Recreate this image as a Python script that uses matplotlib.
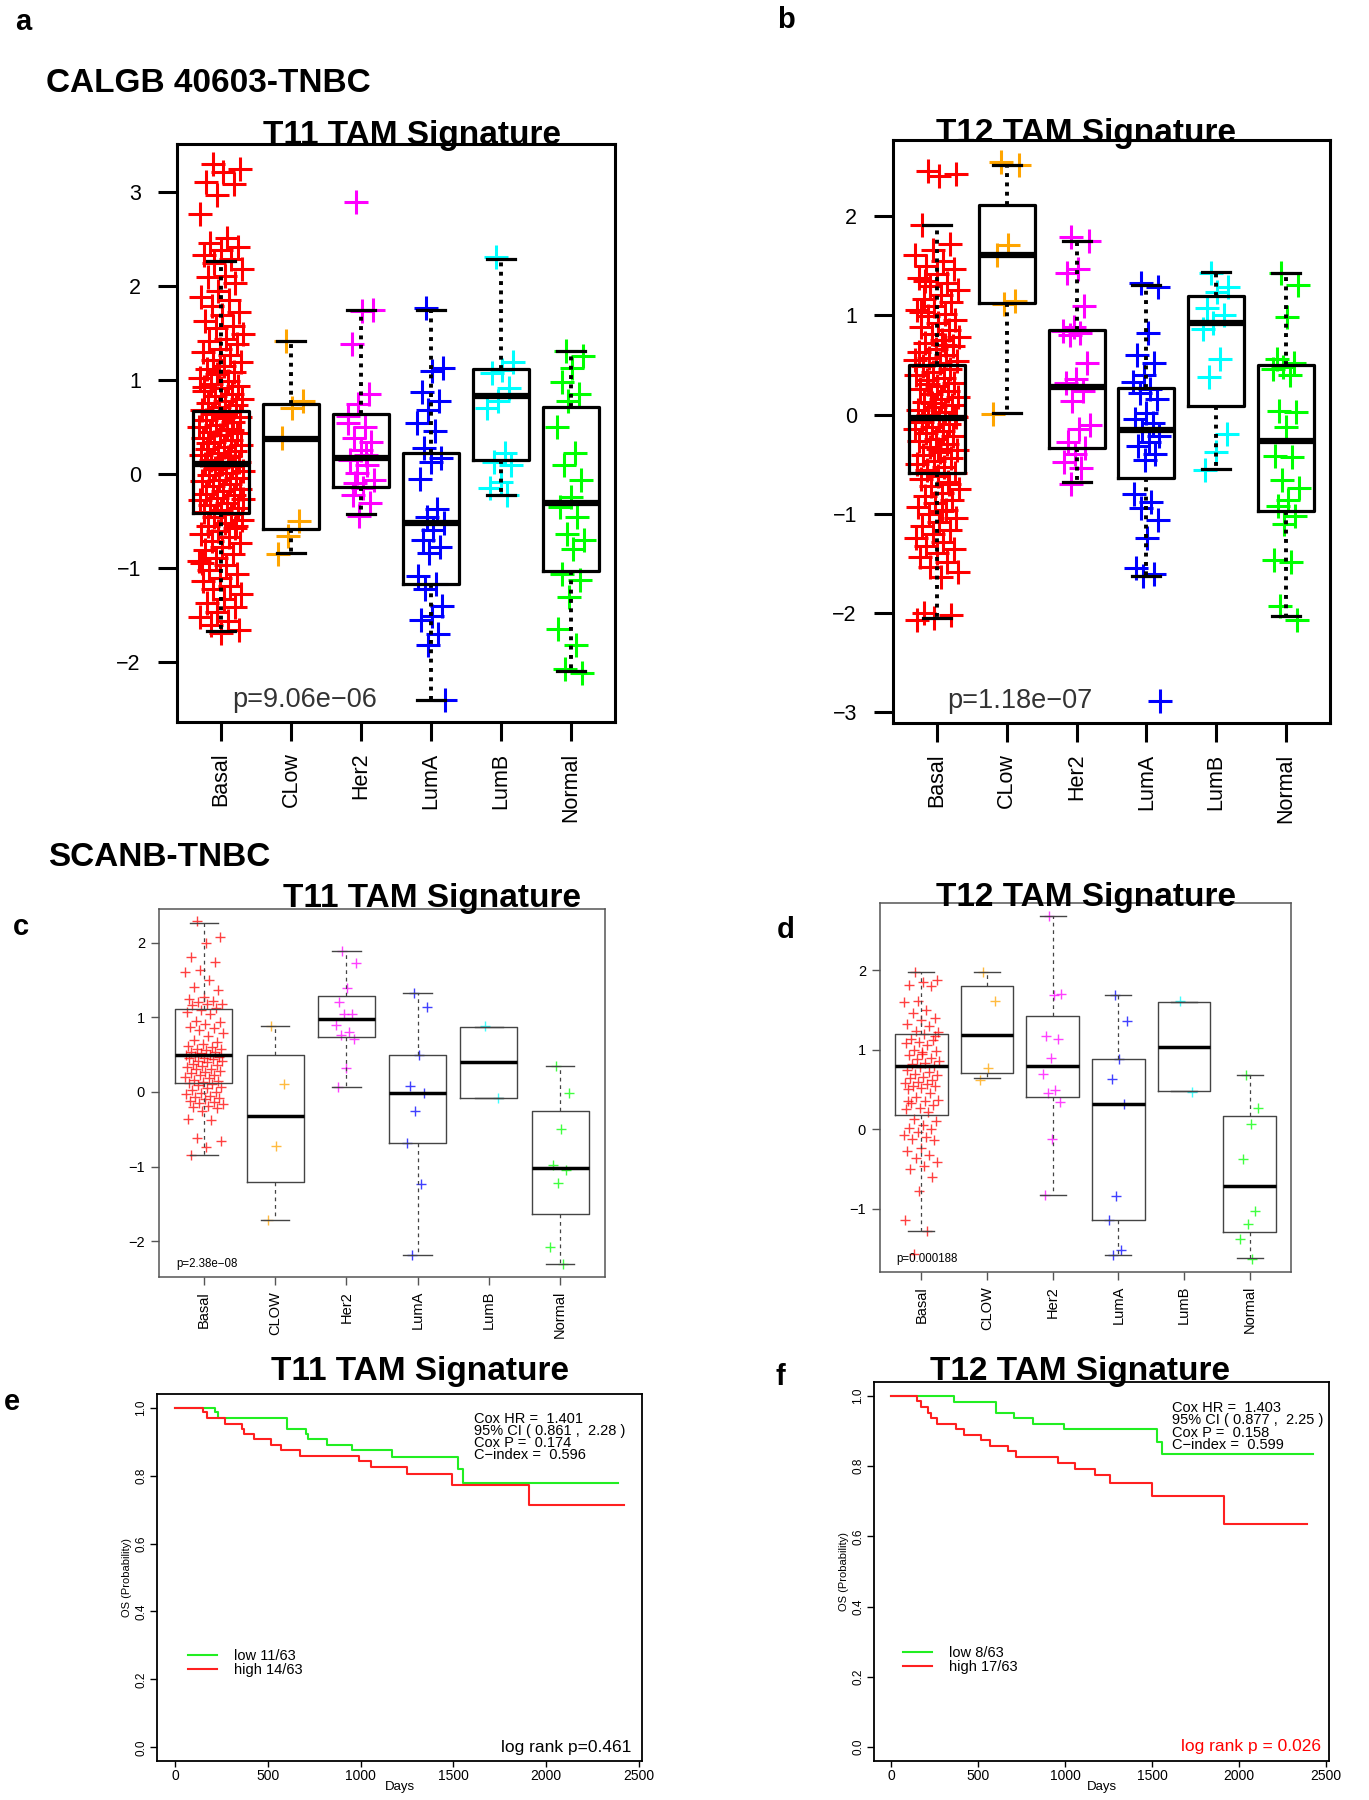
import numpy as np
import matplotlib.pyplot as plt

plt.rcParams['font.family'] = ['Liberation Sans', 'DejaVu Sans']

W, H = 1369, 1800

subtypes_calgb = ["Basal", "CLow", "Her2", "LumA", "LumB", "Normal"]
subtypes_scanb = ["Basal", "CLOW", "Her2", "LumA", "LumB", "Normal"]
colors = ["#FF0000", "#FFA500", "#FF00FF", "#0000FF", "#00FFFF", "#00FF00"]

# ---- panel a : CALGB T11 ----
a_basal = [3.30, 3.24, 3.21, 3.11, 3.08, 2.97, 2.76, 2.51, 2.46, 2.41, 2.38, 2.33, 2.29,
           2.24, 2.18, 2.11, 2.09, 2.03, 1.95, 1.88, 1.85, 1.79, 1.72, 1.69, 1.63, 1.57,
           1.55, 1.49, 1.44, 1.41, 1.38, 1.33, 1.30, 1.26, 1.21, 1.19, 1.15, 1.12, 1.08,
           1.06, 1.02, 0.99, 0.96, 0.93, 0.91, 0.88, 0.85, 0.83, 0.80, 0.78, 0.75, 0.73,
           0.71, 0.68, 0.66, 0.64, 0.61, 0.59, 0.57, 0.55, 0.52, 0.50, 0.48, 0.45, 0.43,
           0.41, 0.38, 0.36, 0.34, 0.31, 0.29, 0.27, 0.24, 0.22, 0.20, 0.18, 0.15, 0.13,
           0.11, 0.10, 0.08, 0.06, 0.03, 0.01, -0.01, -0.04, -0.06, -0.08, -0.11, -0.13,
           -0.16, -0.18, -0.21, -0.23, -0.26, -0.28, -0.31, -0.33, -0.36, -0.38, -0.41,
           -0.43, -0.46, -0.49, -0.52, -0.55, -0.58, -0.61, -0.64, -0.67, -0.71, -0.74,
           -0.78, -0.81, -0.85, -0.89, -0.93, -0.97, -1.02, -1.06, -1.11, -1.14, -1.19,
           -1.23, -1.28, -1.33, -1.37, -1.42, -1.47, -1.52, -1.57, -1.61, -1.66, -1.69,
           0.92, 0.47, 0.05, -0.27, 0.63, 0.33, -0.55, 1.10, -0.95, 0.19]
a_clow = [1.41, 0.78, 0.70, 0.38, -0.50, -0.66, -0.85]
a_her2 = [2.89, 1.74, 1.73, 1.38, 0.85, 0.74, 0.54, 0.50, 0.38, 0.34, 0.25, 0.15, 0.09,
          0.01, -0.07, -0.15, -0.23, -0.31, -0.45, 0.62, 0.20, -0.10]
a_luma = [1.76, 1.13, 1.09, 0.87, 0.78, 0.68, 0.54, 0.46, 0.28, 0.17, 0.13, -0.05, -0.37,
          -0.46, -0.52, -0.60, -0.70, -0.78, -0.84, -1.09, -1.17, -1.23, -1.41, -1.51,
          -1.55, -1.70, -1.82, -2.41]
a_lumb = [2.31, 1.19, 1.11, 1.07, 0.91, 0.78, 0.70, 0.22, 0.13, 0.09, -0.09, -0.15, -0.23]
a_normal = [1.31, 1.25, 1.13, 0.98, 0.85, 0.78, 0.50, 0.22, 0.09, -0.07, -0.25, -0.35,
            -0.46, -0.64, -0.70, -0.80, -1.07, -1.13, -1.31, -1.65, -1.82, -2.08, -2.12]
# (whislo, q1, median, q3, whishi)
a_box = [(-1.67, -0.42, 0.10, 0.67, 2.26), (-0.84, -0.59, 0.37, 0.74, 1.41),
         (-0.43, -0.14, 0.17, 0.64, 1.74), (-2.41, -1.17, -0.52, 0.22, 1.74),
         (-0.23, 0.15, 0.83, 1.12, 2.29), (-2.10, -1.03, -0.31, 0.71, 1.31)]

# ---- panel b : CALGB T12 ----
b_basal = [2.46, 2.43, 2.41, 1.91, 1.72, 1.66, 1.61, 1.55, 1.50, 1.47, 1.42, 1.38, 1.33,
           1.30, 1.26, 1.21, 1.17, 1.14, 1.10, 1.06, 1.02, 0.99, 0.95, 0.92, 0.88, 0.85,
           0.81, 0.78, 0.75, 0.72, 0.69, 0.66, 0.63, 0.60, 0.57, 0.54, 0.52, 0.49, 0.46,
           0.43, 0.40, 0.37, 0.35, 0.32, 0.29, 0.26, 0.24, 0.21, 0.18, 0.16, 0.13, 0.10,
           0.08, 0.05, 0.03, 0.00, -0.02, -0.04, -0.07, -0.09, -0.12, -0.14, -0.17, -0.19,
           -0.22, -0.25, -0.27, -0.30, -0.33, -0.36, -0.38, -0.41, -0.44, -0.47, -0.50,
           -0.53, -0.56, -0.59, -0.62, -0.65, -0.68, -0.72, -0.75, -0.79, -0.82, -0.86,
           -0.89, -0.93, -0.96, -1.00, -1.04, -1.08, -1.12, -1.16, -1.20, -1.24, -1.28,
           -1.32, -1.36, -1.40, -1.44, -1.49, -1.54, -1.59, -1.64, -2.00, -2.02, -2.05,
           -2.07, 0.70, 0.31, -0.01, -0.35, 1.04, -0.70, 0.12, 0.55, -0.97, 1.35]
b_clow = [2.55, 2.52, 1.71, 1.61, 1.15, 1.12, 0.01]
b_her2 = [1.79, 1.75, 1.47, 1.43, 1.10, 0.88, 0.84, 0.82, 0.80, 0.52, 0.36, 0.32, 0.24,
          0.14, -0.10, -0.14, -0.28, -0.34, -0.40, -0.48, -0.54, -0.70]
b_luma = [1.33, 1.29, 0.82, 0.60, 0.52, 0.40, 0.33, 0.26, 0.22, 0.16, 0.02, -0.04, -0.08,
          -0.16, -0.22, -0.28, -0.32, -0.40, -0.46, -0.80, -0.88, -0.94, -1.06, -1.24,
          -1.55, -1.61, -1.63, -2.89]
b_lumb = [1.43, 1.29, 1.24, 1.08, 1.00, 0.92, 0.86, 0.56, 0.38, -0.20, -0.38, -0.56]
b_normal = [1.43, 1.31, 0.98, 0.56, 0.52, 0.48, 0.46, 0.40, 0.04, 0.03, -0.12, -0.42,
            -0.43, -0.66, -0.74, -0.86, -0.92, -1.02, -1.10, -1.47, -1.49, -1.93, -2.07]
b_box = [(-2.05, -0.59, -0.03, 0.50, 1.91), (0.02, 1.13, 1.61, 2.11, 2.52),
         (-0.68, -0.34, 0.28, 0.85, 1.75), (-1.63, -0.64, -0.15, 0.27, 1.31),
         (-0.55, 0.09, 0.92, 1.20, 1.44), (-2.03, -0.97, -0.27, 0.50, 1.43)]

# ---- panel c : SCANB T11 ----
c_basal = [2.29, 2.07, 2.00, 1.81, 1.74, 1.63, 1.61, 1.50, 1.40, 1.36, 1.27, 1.25, 1.22,
           1.20, 1.18, 1.18, 1.16, 1.12, 1.10, 1.07, 1.05, 0.95, 0.93, 0.91, 0.87, 0.86,
           0.83, 0.79, 0.75, 0.70, 0.67, 0.64, 0.62, 0.60, 0.58, 0.57, 0.56, 0.54, 0.53,
           0.52, 0.50, 0.49, 0.48, 0.47, 0.46, 0.45, 0.44, 0.42, 0.41, 0.40, 0.38, 0.36,
           0.35, 0.33, 0.31, 0.30, 0.28, 0.27, 0.25, 0.23, 0.22, 0.20, 0.18, 0.16, 0.15,
           0.13, 0.12, 0.11, 0.09, 0.07, 0.05, 0.02, 0.00, -0.02, -0.03, -0.05, -0.07,
           -0.08, -0.10, -0.12, -0.13, -0.15, -0.16, -0.19, -0.20, -0.22, -0.25, -0.36,
           -0.38, -0.62, -0.66, -0.74, -0.85]
c_clow = [0.88, 0.10, -0.72, -1.72]
c_her2 = [1.89, 1.72, 1.39, 1.20, 1.05, 1.04, 0.89, 0.80, 0.76, 0.71, 0.32, 0.07]
c_luma = [1.32, 1.14, 0.49, 0.08, -0.02, -0.25, -0.69, -1.23, -2.19]
c_lumb = [0.88, -0.08]
c_normal = [0.35, -0.02, -0.50, -0.98, -1.05, -1.22, -2.08, -2.30]
c_box = [(-0.84, 0.12, 0.49, 1.11, 2.26), (-1.71, -1.21, -0.32, 0.49, 0.88),
         (0.07, 0.74, 0.97, 1.29, 1.89), (-2.19, -0.69, -0.02, 0.49, 1.32),
         (-0.08, -0.08, 0.40, 0.87, 0.87), (-2.30, -1.64, -1.02, -0.26, 0.35)]

# ---- panel d : SCANB T12 ----
d_basal = [1.98, 1.88, 1.85, 1.82, 1.80, 1.62, 1.60, 1.50, 1.46, 1.40, 1.37, 1.33, 1.30,
           1.24, 1.22, 1.20, 1.14, 1.12, 1.10, 1.08, 1.06, 1.00, 0.98, 0.97, 0.93, 0.90,
           0.88, 0.86, 0.84, 0.82, 0.80, 0.78, 0.74, 0.72, 0.70, 0.68, 0.66, 0.64, 0.62,
           0.60, 0.58, 0.57, 0.55, 0.54, 0.52, 0.50, 0.45, 0.40, 0.37, 0.36, 0.33, 0.30,
           0.27, 0.25, 0.22, 0.13, 0.10, 0.05, 0.02, 0.00, -0.03, -0.07, -0.10, -0.12,
           -0.14, -0.24, -0.27, -0.32, -0.36, -0.42, -0.47, -0.50, -0.60, -0.78, -1.15,
           -1.28, -1.57, 1.17, 0.95, 0.35]
d_clow = [1.98, 1.62, 0.77, 0.62]
d_her2 = [2.69, 1.70, 1.69, 1.17, 1.14, 0.90, 0.69, 0.49, 0.45, 0.34, -0.13, -0.83]
d_luma = [1.69, 1.36, 0.89, 0.63, 0.32, -0.84, -1.15, -1.52, -1.58]
d_lumb = [1.61, 0.47]
d_normal = [0.68, 0.27, 0.06, -0.38, -1.03, -1.19, -1.39, -1.63]
d_box = [(-1.28, 0.18, 0.80, 1.20, 1.98), (0.65, 0.71, 1.19, 1.80, 1.98),
         (-0.83, 0.40, 0.80, 1.43, 2.69), (-1.58, -1.15, 0.32, 0.88, 1.69),
         (0.48, 0.48, 1.04, 1.60, 1.60), (-1.62, -1.29, -0.71, 0.17, 0.68)]

# ---- panels e/f : Kaplan-Meier ----
e_low_t = [0, 218, 231, 603, 705, 716, 818, 956, 1167, 1525, 1552, 2386]
e_low_s = [1.0, 0.987, 0.970, 0.938, 0.922, 0.907, 0.890, 0.874, 0.856, 0.820, 0.779, 0.779]
e_high_t = [0, 152, 174, 267, 362, 374, 424, 519, 571, 675, 992, 1054, 1251, 1495, 1910, 2420]
e_high_s = [1.0, 0.987, 0.970, 0.953, 0.938, 0.922, 0.907, 0.890, 0.874, 0.858, 0.842,
            0.824, 0.805, 0.771, 0.712, 0.712]
f_low_t = [0, 360, 605, 708, 815, 995, 1528, 1556, 2423]
f_low_s = [1.0, 0.983, 0.953, 0.937, 0.921, 0.905, 0.869, 0.835, 0.835]
f_high_t = [0, 149, 172, 216, 230, 264, 375, 421, 519, 567, 672, 720, 959, 1059, 1173,
            1256, 1499, 1914, 2393]
f_high_s = [1.0, 0.985, 0.968, 0.953, 0.937, 0.921, 0.905, 0.889, 0.874, 0.858, 0.842,
            0.826, 0.809, 0.791, 0.774, 0.753, 0.715, 0.634, 0.634]
e_cox = ["Cox HR =  1.401", "95% CI ( 0.861 ,  2.28 )", "Cox P =  0.174", "C\u2212index =  0.596"]
f_cox = ["Cox HR =  1.403", "95% CI ( 0.877 ,  2.25 )", "Cox P =  0.158", "C\u2212index =  0.599"]
e_legend = ["low 11/63", "high 14/63"]
f_legend = ["low 8/63", "high 17/63"]


def px_axes(fig, x0, y0, x1, y1):
    return fig.add_axes([x0 / W, 1 - y1 / H, (x1 - x0) / W, (y1 - y0) / H])


def ftext(fig, x, y, s, **kw):
    fig.text(x / W, 1 - y / H, s, **kw)


def box_panel(ax, groups, stats, labels, ylim, yticks, ptext, ppos, big):
    for i, vals in enumerate(groups):
        n = len(vals)
        if big:
            w = 0.32 if i == 0 else 0.2
        else:
            w = 0.27 if i == 0 else 0.15
        jit = ((np.arange(n) * 0.6180339887 + 0.31) % 1.0 - 0.5) * 2 * w
        ax.plot(i + 1 + jit, vals, linestyle='none', marker='+', color=colors[i],
                ms=17 if big else 7.5, mew=2.2 if big else 1.0,
                alpha=1.0 if big else 0.75, zorder=2)
    bst = [dict(whislo=s[0], q1=s[1], med=s[2], q3=s[3], whishi=s[4], fliers=[]) for s in stats]
    if big:
        ec, lw, mlw, wls, wlw = 'black', 2.3, 4.5, (0, (1.0, 1.4)), 2.8
    else:
        ec, lw, mlw, wls, wlw = '#444444', 1.0, 2.5, (0, (3, 3)), 0.9
    ax.bxp(bst, positions=range(1, 7), widths=0.8, capwidths=0.4, showfliers=False,
           manage_ticks=False, zorder=3,
           boxprops=dict(color=ec, lw=lw),
           medianprops=dict(color='black', lw=mlw, solid_capstyle='butt'),
           whiskerprops=dict(color=ec, lw=wlw, ls=wls),
           capprops=dict(color=ec, lw=lw))
    ax.set_xlim(0.37, 6.63)
    ax.set_ylim(*ylim)
    ax.set_xticks(range(1, 7))
    ax.set_xticklabels(labels, rotation=90)
    ax.set_yticks(yticks)
    if big:
        for sp in ax.spines.values():
            sp.set_linewidth(2.2)
        ax.tick_params(axis='x', width=2.2, length=14, labelsize=15.5, pad=8)
        ax.tick_params(axis='y', width=2.2, length=14, labelsize=15.5, pad=12)
        ax.text(ppos[0], ppos[1], ptext, ha='center', va='center', fontsize=19.5,
                color='#333333')
    else:
        for sp in ax.spines.values():
            sp.set_linewidth(1.1)
            sp.set_color('#555555')
        ax.tick_params(width=1.0, length=6, labelsize=10.5, pad=4, color='#555555')
        ax.text(ppos[0], ppos[1], ptext, ha='center', va='center', fontsize=8.3)


def km_panel(ax, lt, ls, ht, hs, cox, leg, logrank, lr_color, lr_x, cox_x):
    l1, = ax.step(lt, ls, where='post', color='#22EE22', lw=1.5)
    l2, = ax.step(ht, hs, where='post', color='#FF2020', lw=1.5)
    ax.set_xlim(-97, 2517)
    ax.set_ylim(-0.04, 1.04)
    ax.set_xticks([0, 500, 1000, 1500, 2000, 2500])
    ax.set_yticks([0.0, 0.2, 0.4, 0.6, 0.8, 1.0])
    ax.set_yticklabels(['0.0', '0.2', '0.4', '0.6', '0.8', '1.0'], rotation=90, va='center')
    ax.tick_params(axis='x', labelsize=10, length=4.5, width=1, pad=1)
    ax.tick_params(axis='y', labelsize=8.5, length=5, width=1, pad=2)
    for sp in ax.spines.values():
        sp.set_linewidth(1.3)
    ax.set_xlabel('Days', fontsize=9.5, labelpad=-1)
    ax.set_ylabel('OS (Probability)', fontsize=8, labelpad=2)
    for k, line in enumerate(cox):
        ax.text(cox_x, 0.966 - 0.0355 * k, line, fontsize=10.5, va='center', ha='left')
    ax.legend([l1, l2], leg, loc='center left', bbox_to_anchor=(0.063, 0.266),
              frameon=False, fontsize=10.5, handlelength=2.0, handletextpad=1.2,
              labelspacing=0.0, borderpad=0, borderaxespad=0)
    ax.text(lr_x, 0.0, logrank, ha='right', va='center', fontsize=12.5, color=lr_color)


fig = plt.figure(figsize=(W / 100, H / 100), dpi=100)

ax_a = px_axes(fig, 177, 144, 615, 722)
box_panel(ax_a, [a_basal, a_clow, a_her2, a_luma, a_lumb, a_normal], a_box, subtypes_calgb,
          (-2.64, 3.51), [-2, -1, 0, 1, 2, 3], 'p=9.06e\u221206', (2.19, -2.41), True)
ax_b = px_axes(fig, 893, 140, 1330, 723)
box_panel(ax_b, [b_basal, b_clow, b_her2, b_luma, b_lumb, b_normal], b_box, subtypes_calgb,
          (-3.11, 2.77), [-3, -2, -1, 0, 1, 2], 'p=1.18e\u221207', (2.18, -2.89), True)
ax_c = px_axes(fig, 159, 909, 605, 1277)
box_panel(ax_c, [c_basal, c_clow, c_her2, c_luma, c_lumb, c_normal], c_box, subtypes_scanb,
          (-2.48, 2.45), [-2, -1, 0, 1, 2], 'p=2.38e\u221208', (1.05, -2.30), False)
ax_d = px_axes(fig, 880, 903, 1291, 1272)
box_panel(ax_d, [d_basal, d_clow, d_her2, d_luma, d_lumb, d_normal], d_box, subtypes_scanb,
          (-1.80, 2.85), [-1, 0, 1, 2], 'p=0.000188', (1.08, -1.63), False)

ax_e = px_axes(fig, 157, 1394, 642, 1761)
km_panel(ax_e, e_low_t, e_low_s, e_high_t, e_high_s, e_cox, e_legend,
         'log rank p=0.461', 'black', 2461, 1609)
ax_f = px_axes(fig, 874, 1382, 1329, 1761)
km_panel(ax_f, f_low_t, f_low_s, f_high_t, f_high_s, f_cox, f_legend,
         'log rank p = 0.026', '#FF0000', 2471, 1614)

# titles and panel letters
tkw = dict(fontsize=24, fontweight='bold', ha='center', va='baseline')
ftext(fig, 412, 144, 'T11 TAM Signature', **tkw)
ftext(fig, 1086, 142, 'T12 TAM Signature', **tkw)
ftext(fig, 432, 907, 'T11 TAM Signature', **tkw)
ftext(fig, 1086, 906, 'T12 TAM Signature', **tkw)
ftext(fig, 420, 1380, 'T11 TAM Signature', **tkw)
ftext(fig, 1080, 1380, 'T12 TAM Signature', **tkw)

ftext(fig, 46, 83, 'CALGB 40603-TNBC', fontsize=24, fontweight='bold', ha='left', va='center')
ftext(fig, 48, 858, 'SCANB-TNBC', fontsize=24, fontweight='bold', ha='left', va='center')

lkw = dict(fontsize=21, fontweight='bold', ha='center', va='center')
for s, x, y in [('a', 23, 22), ('b', 786, 20), ('c', 21, 927), ('d', 786, 930),
                ('e', 12, 1402), ('f', 780, 1377)]:
    ftext(fig, x, y, s, **lkw)

fig.savefig('out.png', dpi=100)
